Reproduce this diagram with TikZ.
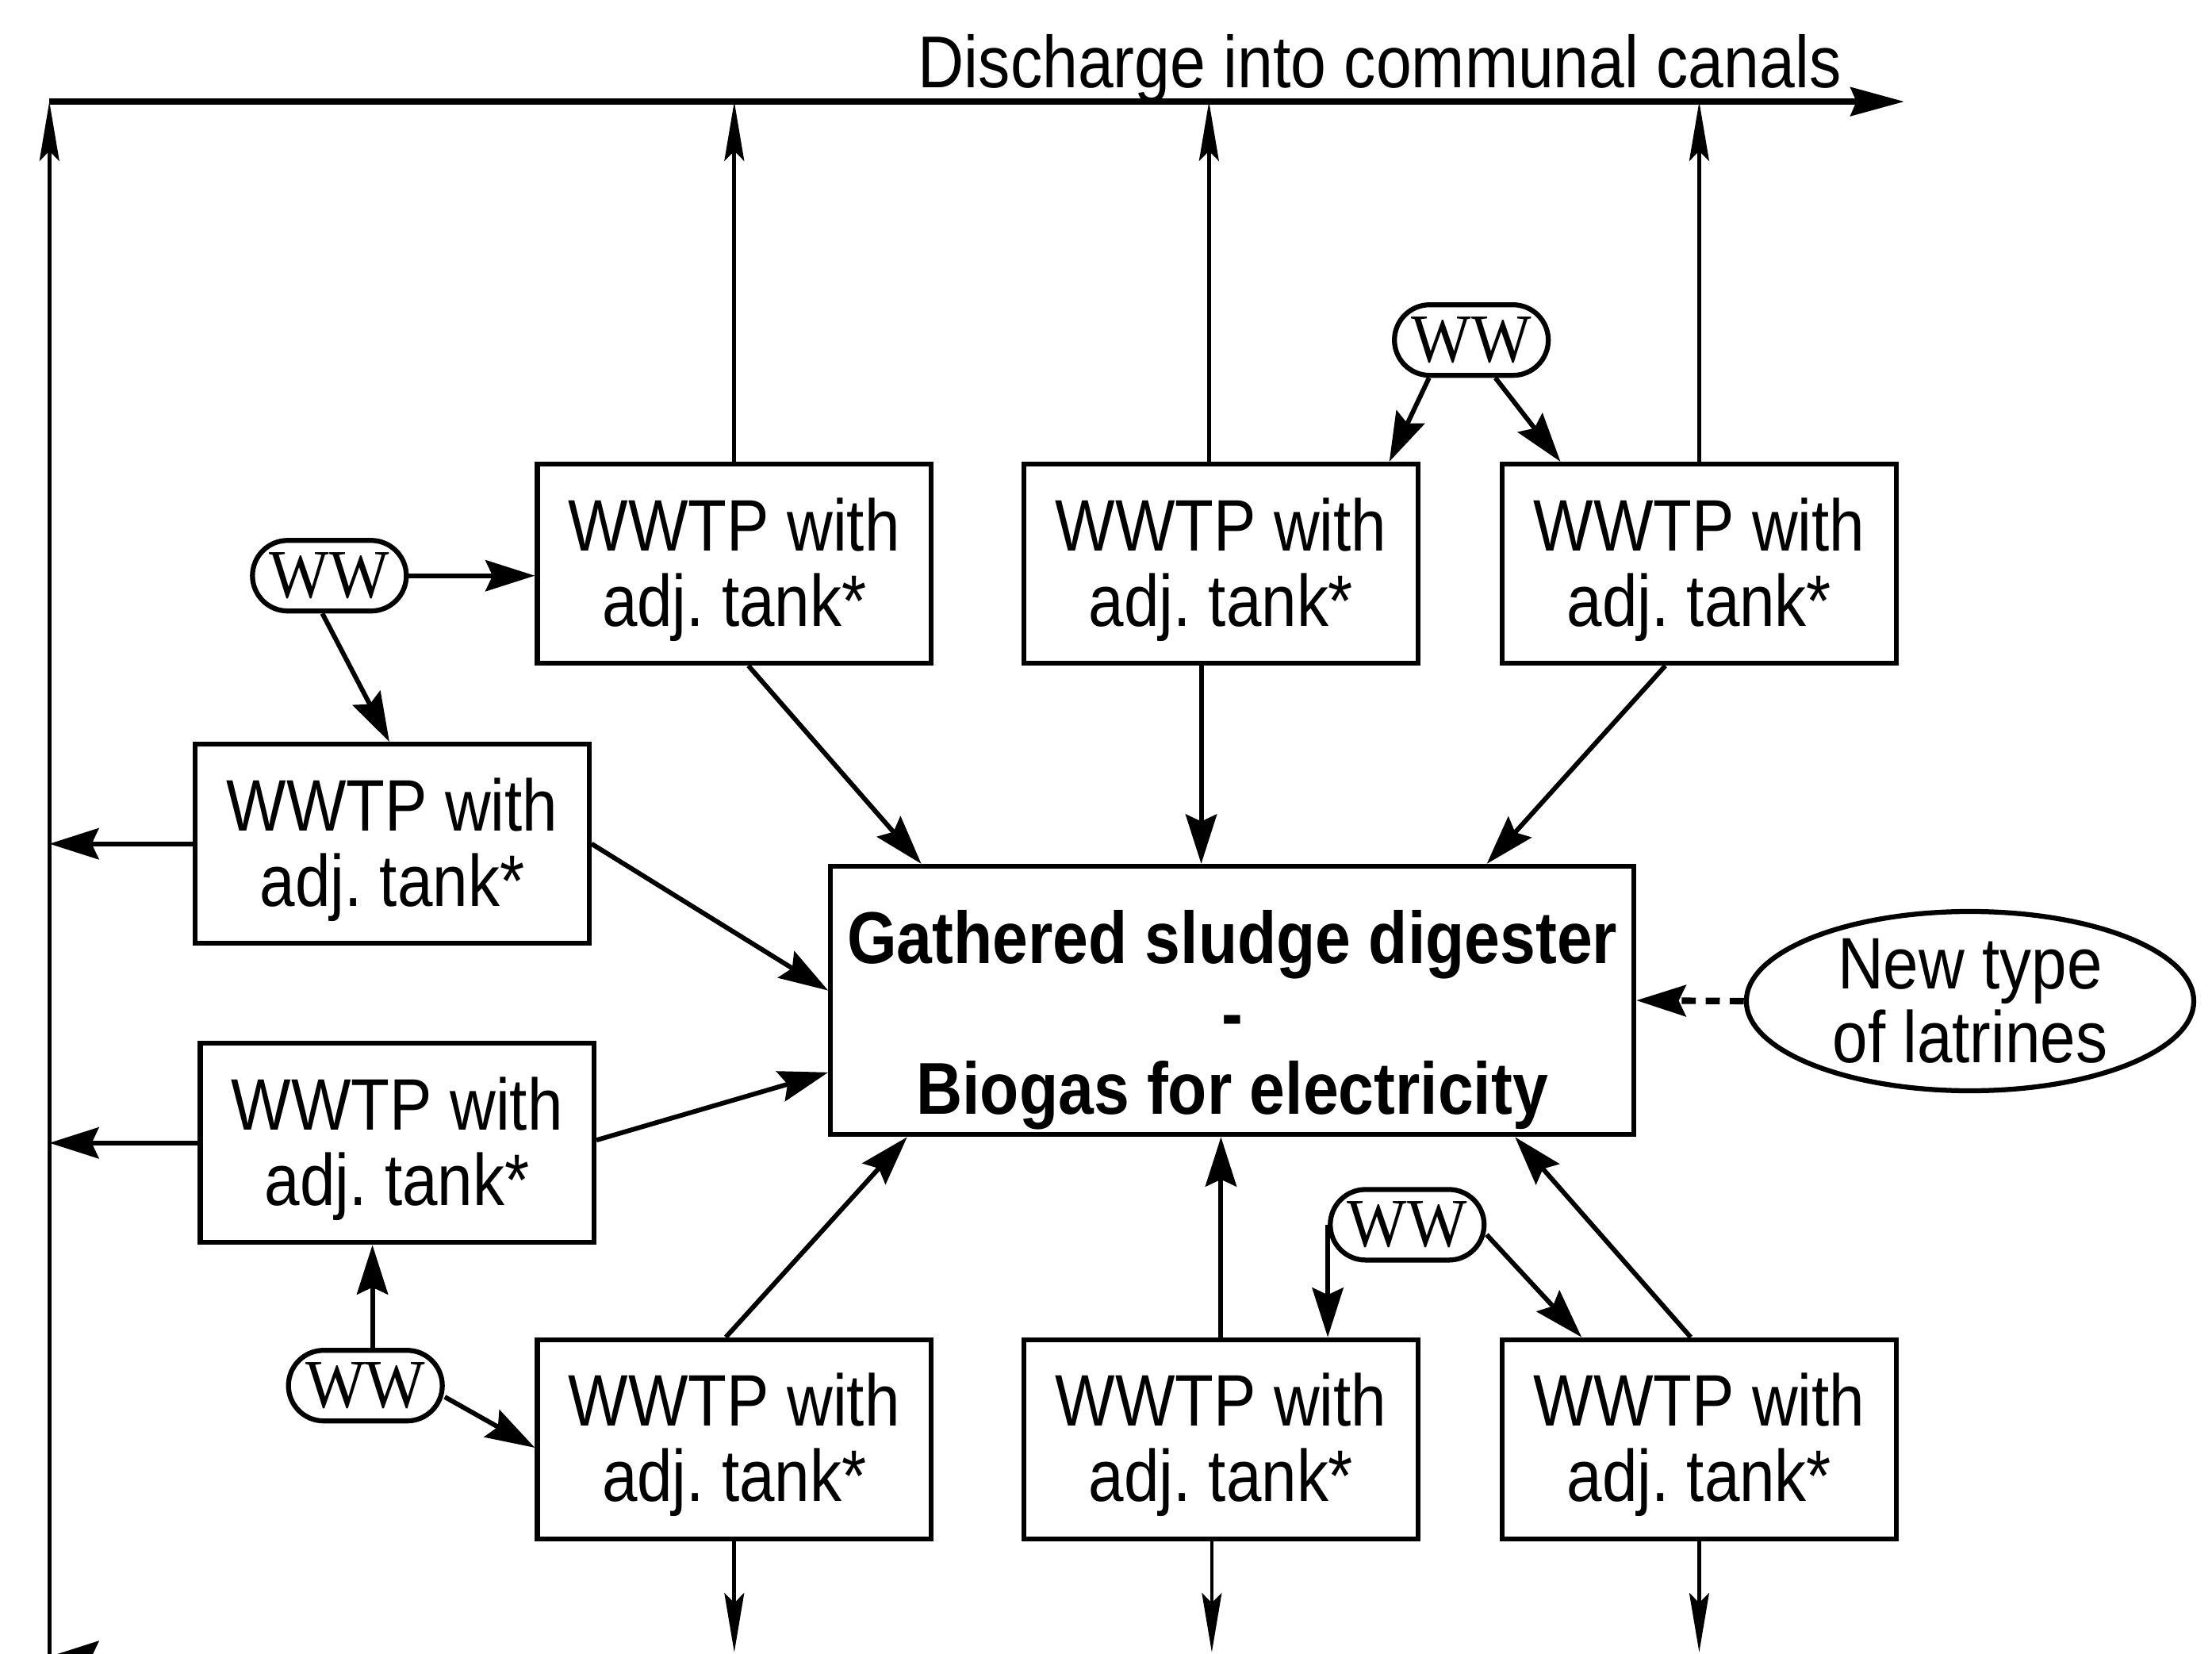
\documentclass[tikz,border=0pt]{standalone}
\usepackage{fontspec}
\setmainfont{Liberation Sans}[FakeStretch=0.87]
\newfontfamily\wwfont{Liberation Serif}[FakeStretch=0.92]
\usetikzlibrary{arrows.meta,shapes.geometric,calc}
\frenchspacing

\begin{document}
\begin{tikzpicture}[x=0.01cm,y=-0.01cm,
        plant/.style={draw,line width=1pt,minimum width=2.79cm,minimum height=1.41cm,inner sep=0pt,align=center,text height=0.99cm,font=\fontsize{14.7}{15.2}\selectfont},
        digester/.style={draw,line width=1pt,minimum width=5.69cm,minimum height=1.9cm,inner sep=0pt,align=center,text height=1.72cm,font=\fontsize{14.8}{15.2}\selectfont\bfseries},
        ww/.style={draw,line width=1pt,rounded corners=0.25cm,minimum width=1.09cm,minimum height=0.5cm,inner sep=0pt,font=\wwfont\fontsize{13.9}{14}\selectfont},
        latrine/.style={draw,ellipse,line width=1pt,minimum width=3.17cm,minimum height=1.27cm,inner sep=0pt,align=center,font=\fontsize{14.7}{14.8}\selectfont},
        flow/.style={line width=0.95pt,arrows={-Stealth[length=0.35cm,width=0.22cm,inset=0.05cm]}},
        outflow/.style={line width=0.75pt,arrows={-Stealth[length=0.42cm,width=0.14cm,inset=0.07cm]}},
        canal/.style={line width=1.4pt,arrows={-Stealth[length=0.38cm,width=0.2cm,inset=0.04cm]}}]
                \useasboundingbox (0,0) rectangle (1568,1172);
                \clip (0,0) rectangle (1568,1172);
                \coordinate (tl) at (35,72);
                \coordinate (tr) at (1350,72);
                \coordinate (bl) at (35,1174);
                \coordinate (blr) at (140,1174);
                \coordinate (bot) at (0,1171);
                \coordinate (up2) at (857,0);
                \coordinate (dn2) at (859,0);

                \node[plant] (t1) at (520.5,399.5) {WWTP with\\adj. tank*};
                \node[plant] (t2) at (865.5,399.5) {WWTP with\\adj. tank*};
                \node[plant] (t3) at (1204.5,399.5) {WWTP with\\adj. tank*};
                \node[plant] (l1) at (278,598) {WWTP with\\adj. tank*};
                \node[plant] (l2) at (281.5,810) {WWTP with\\adj. tank*};
                \node[plant] (b1) at (520.5,1020) {WWTP with\\adj. tank*};
                \node[plant] (b2) at (865.5,1020) {WWTP with\\adj. tank*};
                \node[plant] (b3) at (1204.5,1020) {WWTP with\\adj. tank*};
                \node[digester] (dig) at (873.5,709) {Gathered sludge digester\\-\\Biogas for electricity};
                \node[latrine] (lat) at (1396.5,709.5) {New type\\of latrines};
                \node[ww] (w1) at (233.5,408) {WW};
                \node[ww] (w2) at (1043,241) {WW};
                \node[ww] (w3) at (997.5,868) {WW};
                \node[ww] (w4) at (259,982) {WW};
                \node[anchor=base east,inner sep=0pt,font=\fontsize{14.8}{15}\selectfont] (dis) at (1306,62) {Discharge into communal canals};

                \draw[canal] (tl) -- (tr);
                \draw[outflow] (bl) -- (tl);
                \draw[outflow] (t1.north) -- (t1.north |- tl);
                \draw[outflow] (t2.north -| up2) -- (up2 |- tl);
                \draw[outflow] (t3.north) -- (t3.north |- tl);
                \draw[flow] (l1.west) -- (l1.west -| tl);
                \draw[flow] (l2.west) -- (l2.west -| tl);
                \draw[outflow] (b1.south) -- (b1.south |- bot);
                \draw[outflow] (b2.south -| dn2) -- (dn2 |- bot);
                \draw[outflow] (b3.south) -- (b3.south |- bot);
                \draw[flow] (blr) -- (bl);

                \draw[flow] ($(t1.south)+(10,0)$) -- ($(dig.north west)+(66,0)$);
                \draw[flow] ($(t2.south)+(-14,0)$) -- ($(dig.north)+(-22,0)$);
                \draw[flow] ($(t3.south)+(-24,0)$) -- ($(dig.north east)+(-106,0)$);
                \draw[flow] (l1.east) -- ($(dig.west)+(0,-7)$);
                \draw[flow] ($(l2.east)+(0,-2)$) -- ($(dig.west)+(0,51)$);
                \draw[flow] ($(b1.north)+(-6,0)$) -- ($(dig.south west)+(56,0)$);
                \draw[flow] (b2.north) -- (b2.north |- dig.south);
                \draw[flow] ($(b3.north)+(-6,0)$) -- ($(dig.south east)+(-86,0)$);
                \draw[flow,line width=1.3pt,dash pattern=on 0.1cm off 0.07cm] (lat.west) -- (dig.east);

                \draw[flow] (w1.east) -- (w1.east -| t1.west);
                \draw[flow] ($(w1.south)+(-5,0)$) -- ($(l1.north)+(-2,0)$);
                \draw[flow] ($(w2.south)+(-30,0)$) -- ($(t2.north east)+(-22,0)$);
                \draw[flow] ($(w2.south)+(17,0)$) -- ($(t3.north west)+(43,0)$);
                \draw[flow] (w3.west) -- (w3.west |- b2.north);
                \draw[flow] ($(w3.east)+(0,7)$) -- ($(b3.north west)+(58,0)$);
                \draw[flow] ($(w4.north)+(5,0)$) -- ($(l2.south)+(-17.5,0)$);
                \draw[flow] ($(w4.east)+(0,8)$) -- ($(b1.west)+(0,6)$);
\end{tikzpicture}
\end{document}
